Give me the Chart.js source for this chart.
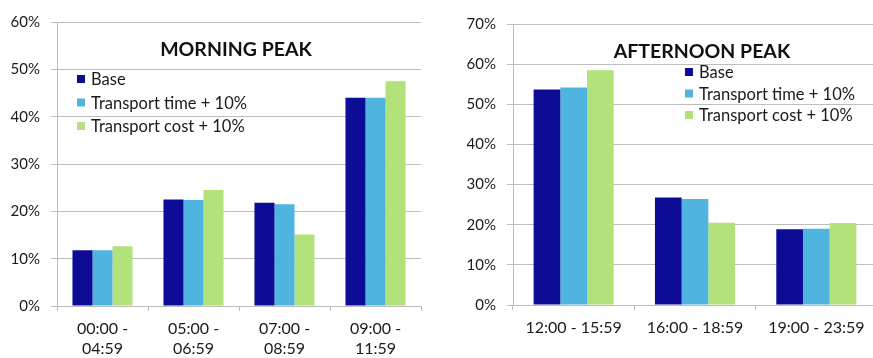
<!DOCTYPE html>
<html>
<head>
<meta charset="utf-8">
<script src="https://cdn.jsdelivr.net/npm/chart.js@4/dist/chart.umd.min.js"></script>
<style>
  html, body { margin: 0; padding: 0; background: #fff; overflow: hidden; }
  #wrap { position: relative; width: 873px; height: 358px; overflow: hidden; }
  .panel { position: absolute; top: 0; height: 358px; }
  #left { left: 0; width: 440px; }
  #right { left: 440px; width: 440px; }
</style>
</head>
<body>
<div id="wrap">
  <div class="panel" id="left"><canvas id="morning" width="440" height="358"></canvas></div>
  <div class="panel" id="right"><canvas id="afternoon" width="440" height="358"></canvas></div>
</div>
<script>
// Series names shared by both panels
const seriesNames = ['Base', 'Transport time + 10%', 'Transport cost + 10%'];

// Morning peak (share of trips, %)
const morningLabels = [['00:00 -', '04:59'], ['05:00 -', '06:59'], ['07:00 -', '08:59'], ['09:00 -', '11:59']];
const morningBase = [11.8, 22.5, 21.8, 44.0];
const morningTime = [11.8, 22.4, 21.5, 44.0];
const morningCost = [12.6, 24.5, 15.1, 47.5];
const morningMax = 60;

// Afternoon peak (share of trips, %)
const afternoonLabels = ['12:00 - 15:59', '16:00 - 18:59', '19:00 - 23:59'];
const afternoonBase = [53.7, 26.8, 18.9];
const afternoonTime = [54.2, 26.4, 19.0];
const afternoonCost = [58.5, 20.5, 20.4];
const afternoonMax = 70;

const tickStep = 10;

const COLORS = ['#0c0c96', '#4fb5e0', '#b3e27a'];
const FONT = 'Lato, "Open Sans", sans-serif';
const GRID = '#bdbdbd';

// Draws the bold panel title and the square-marker legend inside the plot area
const overlayPlugin = {
  id: 'overlay',
  afterDraw(chart, args, opts) {
    const ctx = chart.ctx;
    ctx.save();
    ctx.fillStyle = '#111';
    ctx.font = 'bold ' + opts.titleSize + 'px ' + FONT;
    ctx.textAlign = 'center';
    ctx.textBaseline = 'middle';
    ctx.fillText(opts.title, opts.titleX, opts.titleY);

    ctx.font = opts.legendSize + 'px ' + FONT;
    ctx.textAlign = 'left';
    chart.data.datasets.forEach((ds, i) => {
      const y = opts.legendY + i * opts.legendGap;
      ctx.fillStyle = ds.backgroundColor;
      ctx.fillRect(opts.legendX, y - 4, 8, 8);
      ctx.fillStyle = '#1a1a1a';
      ctx.fillText(ds.label, opts.legendX + 14, y + 1);
    });
    ctx.restore();
  }
};

function makeChart(canvasId, labels, series, maxY, geom, overlay) {
  return new Chart(document.getElementById(canvasId), {
    type: 'bar',
    data: {
      labels: labels,
      datasets: series.map((vals, i) => ({
        label: seriesNames[i],
        data: vals,
        backgroundColor: COLORS[i],
        borderWidth: 0,
        categoryPercentage: geom.catPct,
        barPercentage: 1.0
      }))
    },
    options: {
      responsive: false,
      animation: false,
      layout: { padding: { top: geom.top, right: geom.right, left: 0, bottom: 0 } },
      plugins: {
        legend: { display: false },
        tooltip: { enabled: false },
        overlay: overlay
      },
      scales: {
        x: {
          grid: {
            display: true,
            drawOnChartArea: false,
            drawTicks: true,
            tickLength: 5,
            color: GRID,
            offset: true
          },
          border: { display: true, color: GRID, width: 1 },
          ticks: {
            color: '#1a1a1a',
            font: { family: FONT, size: 16, lineHeight: 1.25 },
            padding: 8,
            maxRotation: 0,
            autoSkip: false
          },
          afterFit(scale) { scale.height = geom.xHeight; }
        },
        y: {
          min: 0,
          max: maxY,
          grid: { color: GRID, lineWidth: 1, tickLength: 6, drawTicks: true },
          border: { display: true, color: GRID, width: 1 },
          ticks: {
            stepSize: tickStep,
            color: '#1a1a1a',
            font: { family: FONT, size: 15 },
            padding: 11,
            callback: v => v + '%'
          },
          afterFit(scale) { scale.width = geom.yWidth; }
        }
      }
    },
    plugins: [overlayPlugin]
  });
}

makeChart('morning', morningLabels, [morningBase, morningTime, morningCost], morningMax,
  { top: 22, right: 19, xHeight: 52, yWidth: 57, catPct: 0.66 },
  { title: 'MORNING PEAK', titleX: 236, titleY: 50, titleSize: 19.5,
    legendX: 77, legendY: 79, legendGap: 23.5, legendSize: 16.5 });

makeChart('afternoon', afternoonLabels, [afternoonBase, afternoonTime, afternoonCost], afternoonMax,
  { top: 24, right: 3, xHeight: 53, yWidth: 73, catPct: 0.66 },
  { title: 'AFTERNOON PEAK', titleX: 262, titleY: 52, titleSize: 19.5,
    legendX: 245, legendY: 72, legendGap: 21.5, legendSize: 16.5 });
</script>
</body>
</html>
